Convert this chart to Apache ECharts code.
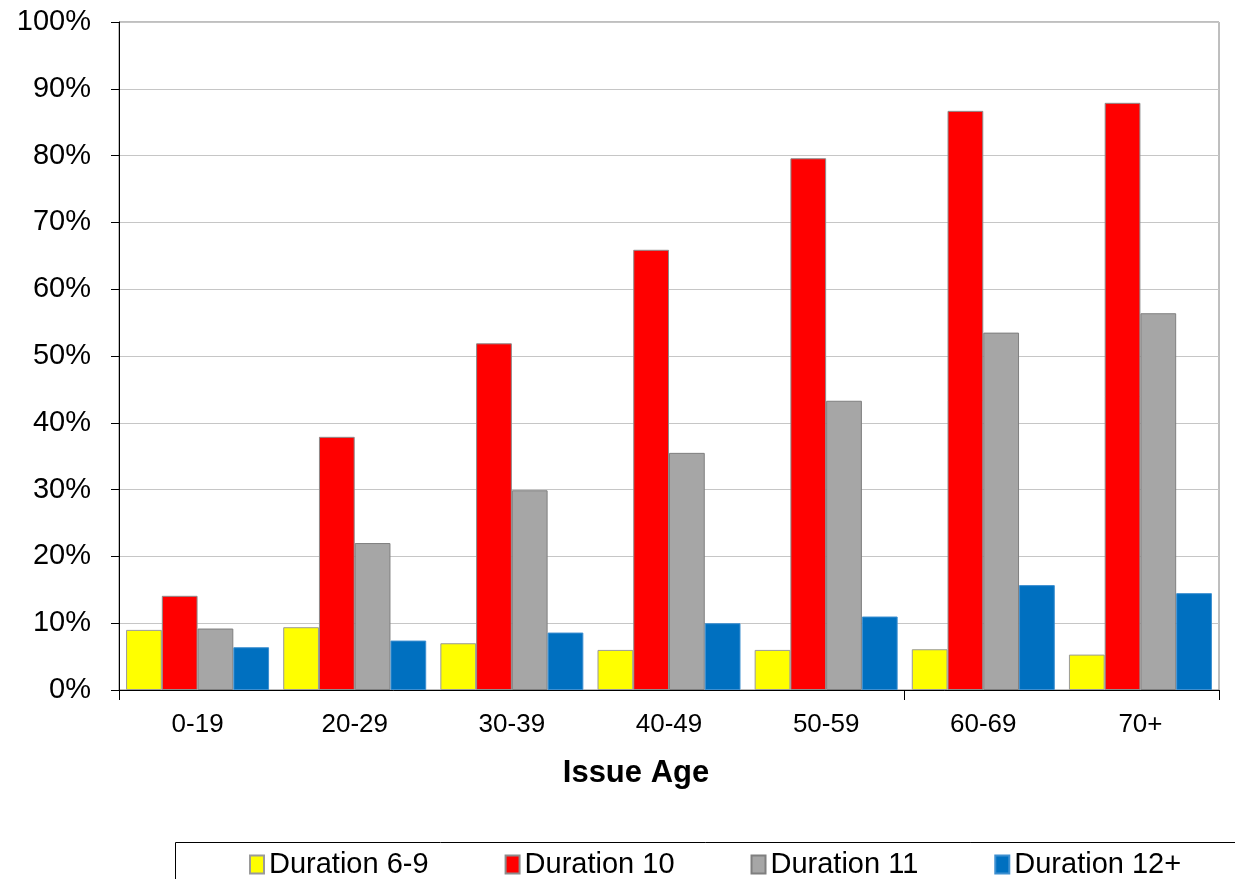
<!DOCTYPE html>
<html>
<head>
<meta charset="utf-8">
<script src="https://cdn.jsdelivr.net/npm/echarts@6/dist/echarts.min.js"></script>
<style>
  html, body { margin: 0; padding: 0; background: #fff; }
  #chart { width: 1235px; height: 879px; }
</style>
</head>
<body>
<div id="chart"></div>
<script>
// Issue-age bands on the category axis
const ageBands = ['0-19', '20-29', '30-39', '40-49', '50-59', '60-69', '70+'];

// Percentages per duration group
const duration6to9 = [9.0, 9.4, 7.0, 6.0, 6.0, 6.1, 5.3];
const duration10   = [14.1, 37.9, 51.9, 65.9, 79.6, 86.7, 87.9];
const duration11   = [9.2, 22.0, 29.9, 35.5, 43.3, 53.5, 56.4];
const duration12p  = [6.4, 7.4, 8.6, 10.0, 11.0, 15.7, 14.5];

const seriesNames = ['Duration 6-9', 'Duration 10', 'Duration 11', 'Duration 12+'];

const FONT = '"Liberation Sans", Arial, sans-serif';

const chart = echarts.init(document.getElementById('chart'), null, { renderer: 'canvas' });

function barSeries(name, data, color, border) {
  return {
    name: name,
    type: 'bar',
    data: data,
    barGap: '0%',
    barCategoryGap: '9%',
    itemStyle: { color: color, borderColor: border, borderWidth: 1 },
    emphasis: { disabled: true },
    animation: false
  };
}

chart.setOption({
  animation: false,
  backgroundColor: '#ffffff',
  grid: {
    left: 119, top: 22, right: 16, bottom: 189,
    show: true, borderColor: '#7f7f7f', borderWidth: 1,
    containLabel: false
  },
  legend: {
    data: seriesNames,
    left: 249, top: 850,
    padding: 0,
    itemWidth: 14, itemHeight: 18,
    itemGap: 76,
    icon: 'rect',
    selectedMode: false,
    textStyle: { fontFamily: FONT, fontSize: 29, color: '#000' }
  },
  xAxis: {
    type: 'category',
    data: ageBands,
    boundaryGap: true,
    axisLine: { show: true, lineStyle: { color: '#000', width: 1 } },
    axisTick: {
      show: true,
      // tick marks every fifth category boundary
      interval: function (index) { return index % 5 === 0 && index < ageBands.length; },
      length: 10,
      lineStyle: { color: '#000' }
    },
    axisLabel: { fontFamily: FONT, fontSize: 26, color: '#000', margin: 22, interval: 0 },
    splitLine: { show: false }
  },
  yAxis: {
    type: 'value',
    min: 0, max: 100, interval: 10,
    axisLine: { show: true, lineStyle: { color: '#000', width: 1 } },
    axisTick: { show: true, inside: false, length: 8, lineStyle: { color: '#000' } },
    axisLabel: {
      fontFamily: FONT, fontSize: 29, color: '#000', margin: 28,
      formatter: function (v) { return v + '%'; }
    },
    splitLine: { show: true, lineStyle: { color: '#c6c6c6', width: 1 } }
  },
  graphic: [
    {
      type: 'text',
      x: 636, y: 773,
      style: {
        text: 'Issue Age',
        font: 'bold 31px ' + FONT,
        fill: '#000',
        align: 'center',
        verticalAlign: 'middle'
      }
    },
    {
      type: 'rect',
      shape: { x: 175.5, y: 842.5, width: 1100, height: 100 },
      style: { fill: 'none', stroke: '#000', lineWidth: 1 },
      z: -1
    }
  ],
  series: [
    barSeries(seriesNames[0], duration6to9, '#ffff00', '#9a9a9a'),
    barSeries(seriesNames[1], duration10, '#ff0000', '#8c8c8c'),
    barSeries(seriesNames[2], duration11, '#a6a6a6', '#7f7f7f'),
    barSeries(seriesNames[3], duration12p, '#0070c0', '#3d8fd0')
  ]
});
</script>
</body>
</html>
